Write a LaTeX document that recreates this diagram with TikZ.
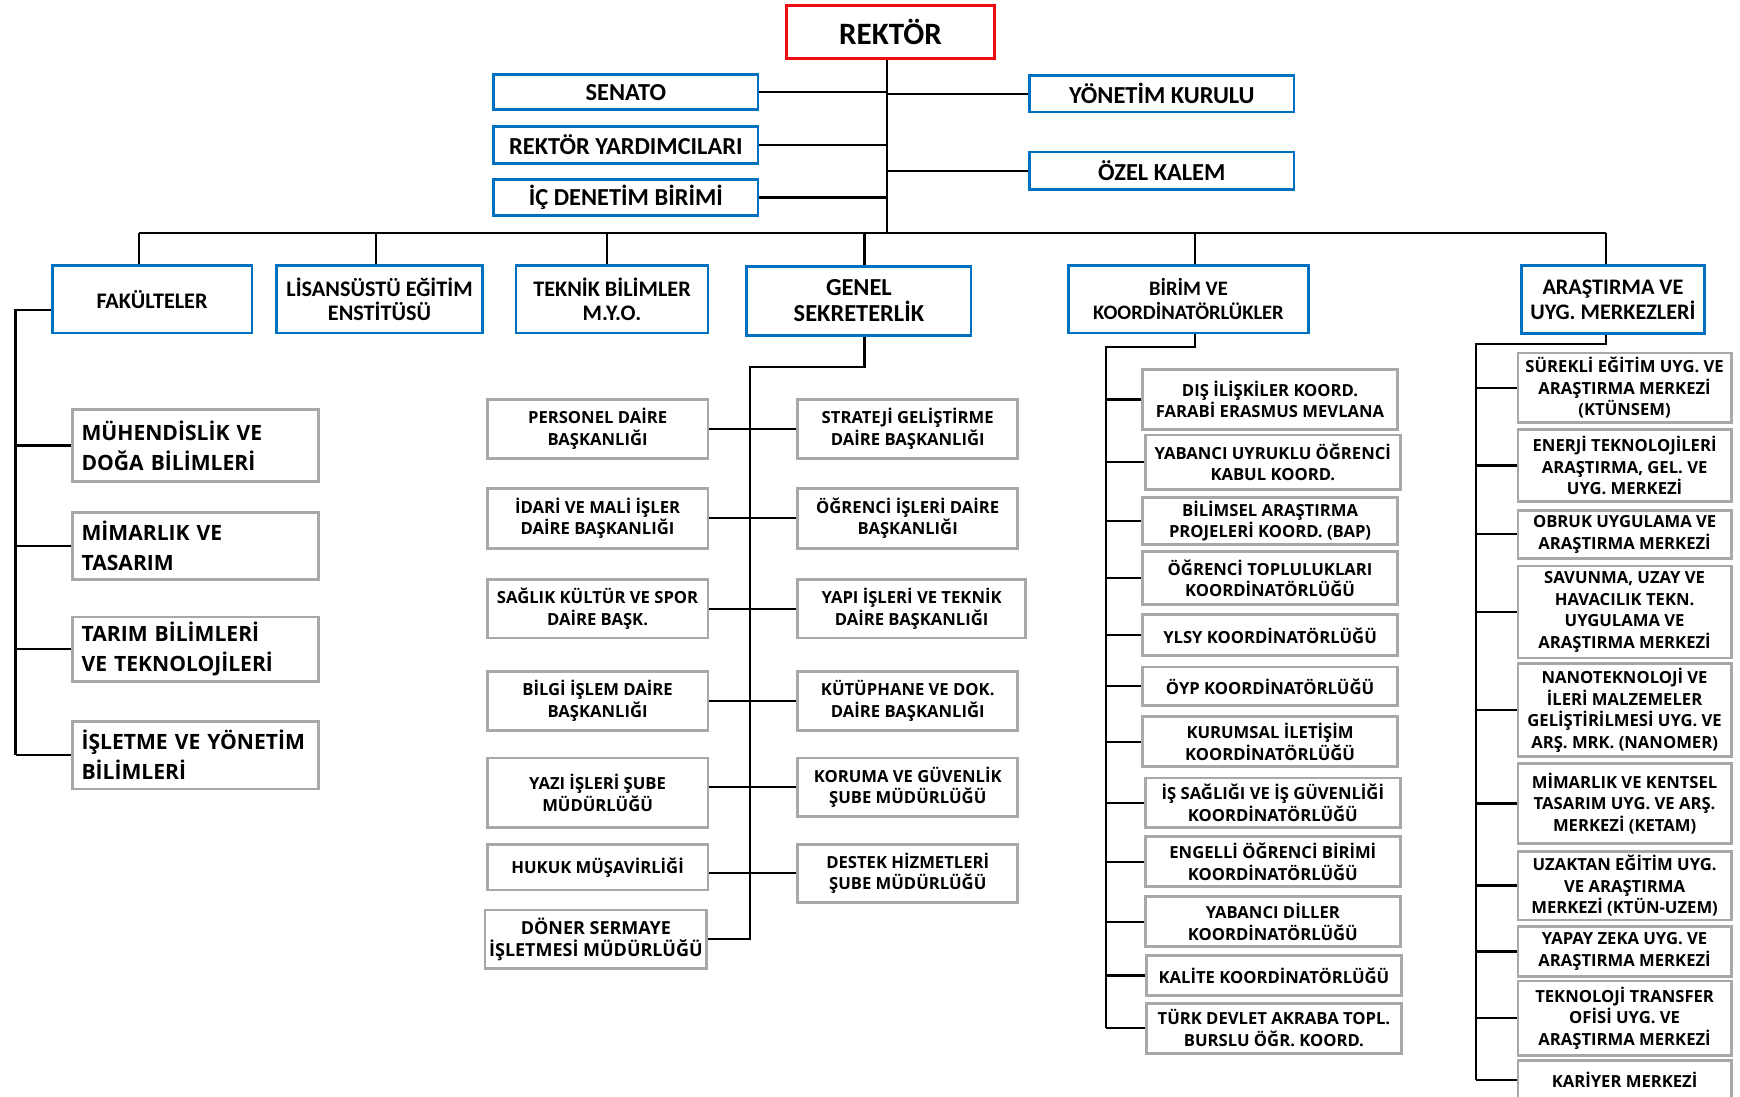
\documentclass[tikz,border=0pt]{standalone}
\usepackage{fontspec}
\setmainfont{Open Sans}
\newfontfamily\calfont{Carlito}
\usepackage{xcolor}

\definecolor{kutumavi}{RGB}{0,112,192}
\definecolor{kutugri}{RGB}{168,168,168}
\definecolor{kutukirmizi}{RGB}{240,10,20}

\tikzset{
    ustkutu/.style={draw=kutumavi, line width=2.5pt, fill=white, align=center, inner sep=1pt,
        font=\calfont\bfseries\fontsize{22}{24}\selectfont},
    birimkutu/.style={ustkutu, font=\calfont\bfseries\fontsize{20}{22}\selectfont},
    altkutu/.style={draw=kutugri, line width=2.5pt, fill=white, align=center, inner sep=1pt,
        font=\bfseries\fontsize{15}{19.5}\selectfont},
    fakkutu/.style={altkutu, align=left, text width=205pt, inner xsep=8.5pt,
        font=\bfseries\fontsize{19}{27}\selectfont},
    hat/.style={line width=2pt, black}
}

\begin{document}
\begin{tikzpicture}[x=1pt, y=-1pt]
            % Sayfa
            \useasboundingbox (0,0) rectangle (1568,988);
            \fill[white] (0,0) rectangle (1568,988);

            % Rektör
            \node[ustkutu, draw=kutukirmizi, minimum width=187, minimum height=48,
                font=\calfont\bfseries\fontsize{28}{30}\selectfont] (rektor) at (802.5,29) {REKTÖR};

            % Rektöre bağlı kurullar
            \node[ustkutu, minimum width=238, minimum height=32] (senato) at (564,83) {SENATO};
            \node[ustkutu, minimum width=238, minimum height=33] (ryard) at (564,130.5) {REKTÖR YARDIMCILARI};
            \node[ustkutu, minimum width=238, minimum height=32] (icden) at (564,178) {İÇ DENETİM BİRİMİ};
            \node[ustkutu, minimum width=238, minimum height=33] (yonetim) at (1047,84.5) {YÖNETİM KURULU};
            \node[ustkutu, minimum width=238, minimum height=34] (ozel) at (1047,154) {ÖZEL KALEM};

            % Ana hat
            \coordinate (bus) at (799,210);
            \draw[hat] (rektor.south -| bus) -- (bus);
            \foreach \kutu in {senato, ryard, icden} {
                \draw[hat] (\kutu.east) -- (\kutu.east -| bus);
            }
            \foreach \kutu in {yonetim, ozel} {
                \draw[hat] (\kutu.west) -- (\kutu.west -| bus);
            }

            % İkinci düzey
            \node[birimkutu, minimum width=180, minimum height=61] (fak) at (137,269.5) {FAKÜLTELER};
            \node[birimkutu, minimum width=186, minimum height=61] (lisans) at (342,269.5) {LİSANSÜSTÜ EĞİTİM\\ENSTİTÜSÜ};
            \node[birimkutu, minimum width=173, minimum height=61] (teknik) at (551.5,269.5) {TEKNİK BİLİMLER\\M.Y.O.};
            \node[birimkutu, minimum width=202, minimum height=62,
                font=\calfont\bfseries\fontsize{22}{24}\selectfont] (genel) at (774,271) {GENEL\\SEKRETERLİK};
            \node[birimkutu, minimum width=216, minimum height=61,
                font=\calfont\bfseries\fontsize{18.5}{22}\selectfont] (birim) at (1071,269.5) {BİRİM VE\\KOORDİNATÖRLÜKLER};
            \node[birimkutu, minimum width=165, minimum height=61] (arastirma) at (1453.5,270) {ARAŞTIRMA VE\\UYG. MERKEZLERİ};

            \coordinate (d1) at (125,210);
            \coordinate (d2) at (339,210);
            \coordinate (d3) at (547,210);
            \coordinate (d4) at (779,210);
            \coordinate (d5) at (1077,210);
            \coordinate (d6) at (1447,210);
            \draw[hat] (d1) -- (d6);
            \foreach \dus/\kutu in {d1/fak, d2/lisans, d3/teknik, d4/genel, d5/birim, d6/arastirma} {
                \draw[hat] (\dus) -- (\dus |- \kutu.north);
            }

            % Fakülteler
            \node[fakkutu, minimum height=65] (muh) at (176,401.5) {MÜHENDİSLİK VE\\DOĞA BİLİMLERİ};
            \node[fakkutu, minimum height=60] (mim) at (176,492) {MİMARLIK VE\\TASARIM};
            \node[fakkutu, minimum height=58] (tarim) at (176,585) {TARIM BİLİMLERİ\\VE TEKNOLOJİLERİ};
            \node[fakkutu, minimum height=61] (isl) at (176,680.5) {İŞLETME VE YÖNETİM\\BİLİMLERİ};

            \coordinate (fv) at (14,279);
            \draw[hat] (fak.west |- fv) -- (fv) -- (fv |- isl.west);
            \foreach \kutu in {muh, mim, tarim, isl} {
                \draw[hat] (fv |- \kutu.west) -- (\kutu.west);
            }

            % Genel Sekreterlik
            \node[altkutu, minimum width=199, minimum height=53] (pers) at (538.5,386.5) {PERSONEL DAİRE\\BAŞKANLIĞI};
            \node[altkutu, minimum width=199, minimum height=54] (idari) at (538.5,467) {İDARİ VE MALİ İŞLER\\DAİRE BAŞKANLIĞI};
            \node[altkutu, minimum width=199, minimum height=53] (saglik) at (538.5,548.5) {SAĞLIK KÜLTÜR VE SPOR\\DAİRE BAŞK.};
            \node[altkutu, minimum width=199, minimum height=53] (bilgi) at (538.5,631.5) {BİLGİ İŞLEM DAİRE\\BAŞKANLIĞI};
            \node[altkutu, minimum width=199, minimum height=63] (yazi) at (538.5,714.5) {YAZI İŞLERİ ŞUBE\\MÜDÜRLÜĞÜ};
            \node[altkutu, minimum width=199, minimum height=41] (hukuk) at (538.5,781.5) {HUKUK MÜŞAVİRLİĞİ};
            \node[altkutu, minimum width=200, minimum height=53,
                font=\bfseries\fontsize{16.2}{20}\selectfont] (doner) at (537,846.5) {DÖNER SERMAYE\\İŞLETMESİ MÜDÜRLÜĞÜ};

            \node[altkutu, minimum width=198, minimum height=53] (strateji) at (818,386.5) {STRATEJİ GELİŞTİRME\\DAİRE BAŞKANLIĞI};
            \node[altkutu, minimum width=198, minimum height=54] (ogrenci) at (818,467) {ÖĞRENCİ İŞLERİ DAİRE\\BAŞKANLIĞI};
            \node[altkutu, minimum width=205, minimum height=53] (yapi) at (821.5,548.5) {YAPI İŞLERİ VE TEKNİK\\DAİRE BAŞKANLIĞI};
            \node[altkutu, minimum width=198, minimum height=53] (kutup) at (818,631.5) {KÜTÜPHANE VE DOK.\\DAİRE BAŞKANLIĞI};
            \node[altkutu, minimum width=198, minimum height=53] (koruma) at (818,709.5) {KORUMA VE GÜVENLİK\\ŞUBE MÜDÜRLÜĞÜ};
            \node[altkutu, minimum width=198, minimum height=52] (destek) at (818,787) {DESTEK HİZMETLERİ\\ŞUBE MÜDÜRLÜĞÜ};

            \coordinate (gsv) at (676,331);
            \draw[hat] (d4 |- genel.south) -- (d4 |- gsv) -- (gsv) -- (gsv |- doner.east) -- (doner.east);
            \foreach \sol/\sag in {pers/strateji, idari/ogrenci, saglik/yapi, bilgi/kutup, yazi/koruma, hukuk/destek} {
                \draw[hat] (\sag.west) -- (\sag.west -| \sol.east);
            }

            % Birim ve Koordinatörlükler
            \node[altkutu, minimum width=230, minimum height=54] (b1) at (1144.5,360) {DIŞ İLİŞKİLER KOORD.\\FARABİ ERASMUS MEVLANA};
            \node[altkutu, minimum width=230, minimum height=49] (b2) at (1147,416.5) {YABANCI UYRUKLU ÖĞRENCİ\\KABUL KOORD.};
            \node[altkutu, minimum width=230, minimum height=43] (b3) at (1144.5,469.5) {BİLİMSEL ARAŞTIRMA\\PROJELERİ KOORD. (BAP)};
            \node[altkutu, minimum width=230, minimum height=48] (b4) at (1144.5,521) {ÖĞRENCİ TOPLULUKLARI\\KOORDİNATÖRLÜĞÜ};
            \node[altkutu, minimum width=230, minimum height=37] (b5) at (1144.5,572.5) {YLSY KOORDİNATÖRLÜĞÜ};
            \node[altkutu, minimum width=230, minimum height=35] (b6) at (1144.5,618.5) {ÖYP KOORDİNATÖRLÜĞÜ};
            \node[altkutu, minimum width=230, minimum height=45] (b7) at (1144.5,668.5) {KURUMSAL İLETİŞİM\\KOORDİNATÖRLÜĞÜ};
            \node[altkutu, minimum width=230, minimum height=45] (b8) at (1147,723.5) {İŞ SAĞLIĞI VE İŞ GÜVENLİĞİ\\KOORDİNATÖRLÜĞÜ};
            \node[altkutu, minimum width=230, minimum height=45] (b9) at (1147,776.5) {ENGELLİ ÖĞRENCİ BİRİMİ\\KOORDİNATÖRLÜĞÜ};
            \node[altkutu, minimum width=230, minimum height=45] (b10) at (1147,830.5) {YABANCI DİLLER\\KOORDİNATÖRLÜĞÜ};
            \node[altkutu, minimum width=230, minimum height=36] (b11) at (1148,879) {KALİTE KOORDİNATÖRLÜĞÜ};
            \node[altkutu, minimum width=230, minimum height=45] (b12) at (1148,926.5) {TÜRK DEVLET AKRABA TOPL.\\BURSLU ÖĞR. KOORD.};

            \coordinate (bv) at (997,313);
            \draw[hat] (d5 |- birim.south) -- (d5 |- bv) -- (bv) -- (bv |- b12.west);
            \foreach \i in {1,...,12} {
                \draw[hat] (bv |- b\i.west) -- (b\i.west);
            }

            % Araştırma ve Uygulama Merkezleri
            \node[altkutu, minimum width=192, minimum height=63] (a1) at (1464,349.5) {SÜREKLİ EĞİTİM UYG. VE\\ARAŞTIRMA MERKEZİ\\(KTÜNSEM)};
            \node[altkutu, minimum width=192, minimum height=65] (a2) at (1464,419.5) {ENERJİ TEKNOLOJİLERİ\\ARAŞTIRMA, GEL. VE\\UYG. MERKEZİ};
            \node[altkutu, minimum width=192, minimum height=43] (a3) at (1464,481.5) {OBRUK UYGULAMA VE\\ARAŞTIRMA MERKEZİ};
            \node[altkutu, minimum width=192, minimum height=83] (a4) at (1464,551.5) {SAVUNMA, UZAY VE\\HAVACILIK TEKN.\\UYGULAMA VE\\ARAŞTIRMA MERKEZİ};
            \node[altkutu, minimum width=192, minimum height=84] (a5) at (1464,640) {NANOTEKNOLOJİ VE\\İLERİ MALZEMELER\\GELİŞTİRİLMESİ UYG. VE\\ARŞ. MRK. (NANOMER)};
            \node[altkutu, minimum width=192, minimum height=72] (a6) at (1464,724) {MİMARLIK VE KENTSEL\\TASARIM UYG. VE ARŞ.\\MERKEZİ (KETAM)};
            \node[altkutu, minimum width=192, minimum height=62] (a7) at (1464,798) {UZAKTAN EĞİTİM UYG.\\VE ARAŞTIRMA\\MERKEZİ (KTÜN-UZEM)};
            \node[altkutu, minimum width=192, minimum height=45] (a8) at (1464,857.5) {YAPAY ZEKA UYG. VE\\ARAŞTIRMA MERKEZİ};
            \node[altkutu, minimum width=192, minimum height=67] (a9) at (1464,917.5) {TEKNOLOJİ TRANSFER\\OFİSİ UYG. VE\\ARAŞTIRMA MERKEZİ};
            \node[altkutu, minimum width=192, minimum height=34] (a10) at (1464,973) {KARİYER MERKEZİ};

            \coordinate (av) at (1330,310);
            \draw[hat] (d6 |- arastirma.south) -- (d6 |- av) -- (av) -- (av |- a10.west);
            \foreach \i in {1,...,10} {
                \draw[hat] (av |- a\i.west) -- (a\i.west);
            }
\end{tikzpicture}
\end{document}
